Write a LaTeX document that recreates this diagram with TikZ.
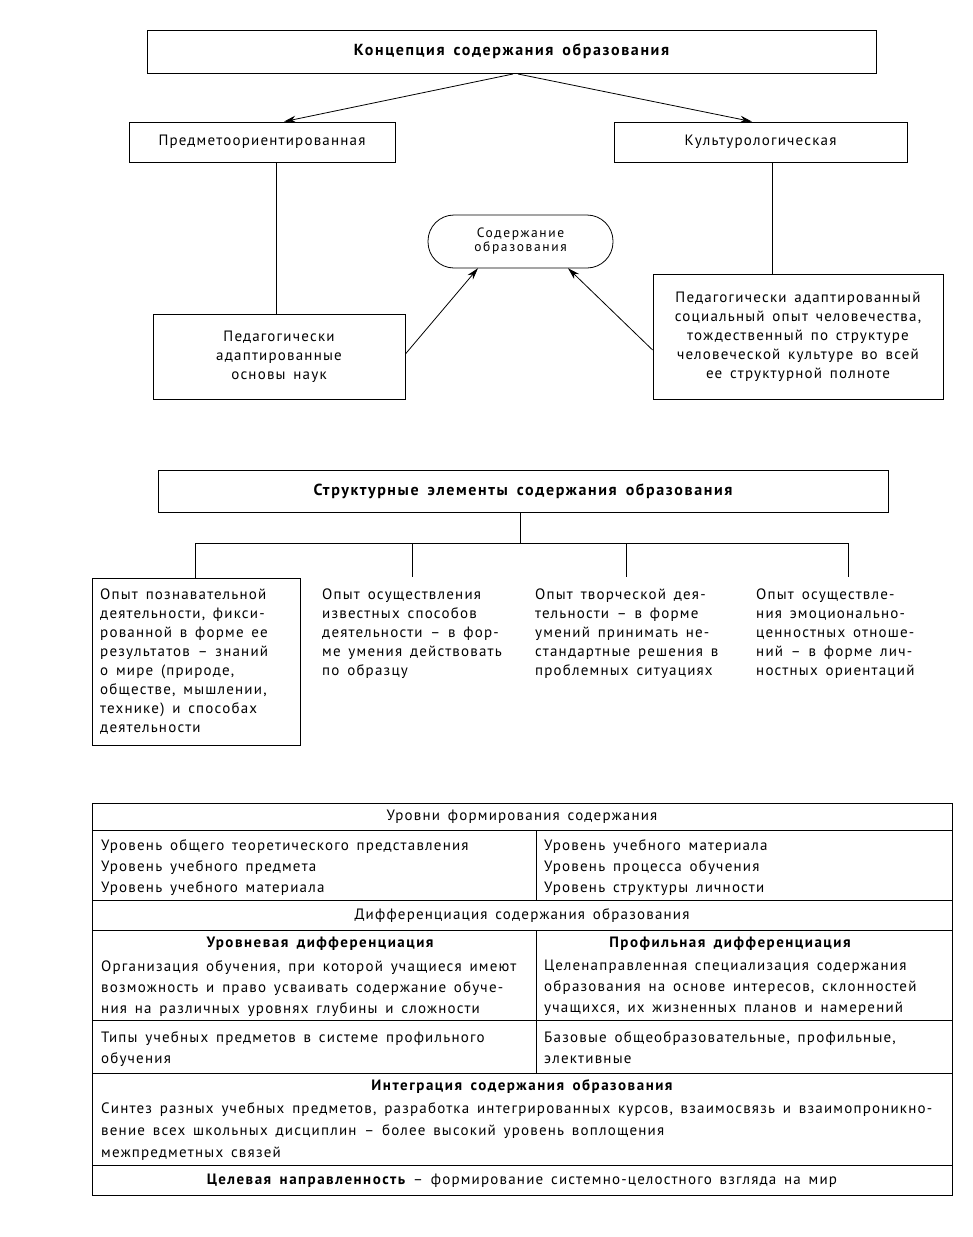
\documentclass[tikz,border=0pt]{standalone}
\usepackage{fontspec}
\setmainfont{PT Sans}[LetterSpace=8,WordSpace=1.5]
\newfontfamily\titlef{PT Sans}[LetterSpace=10,WordSpace=1.6]
\newfontfamily\pillf{PT Sans}[LetterSpace=12]
\usetikzlibrary{arrows.meta}
\begin{document}
\begin{tikzpicture}[x=1pt,y=-1pt,
  every node/.style={font=\fontsize{15}{19}\selectfont},
  box/.style={draw,thick,rectangle,inner sep=0pt},
  title/.style={font=\titlef\bfseries\fontsize{16}{19}\selectfont},
  txt/.style={inner sep=0pt,align=left,anchor=north west},
  cell/.style={inner sep=0pt,align=left,anchor=north west,font=\fontsize{15}{21}\selectfont},
  ctext/.style={inner sep=0pt,align=center},
  bhead/.style={font=\titlef\bfseries\fontsize{15}{19}\selectfont},
  arr/.style={thick,-{Stealth[length=12pt,width=7pt]}},
  ln/.style={thick}]
\useasboundingbox (0,0) rectangle (972,1237);
% top part
\node[box,title,minimum width=729,minimum height=43] (concept) at (511.5,51.5) {Концепция содержания образования};
\node[box,minimum width=266,minimum height=40] (pred) at (262,142) {Предметоориентированная};
\node[box,minimum width=293,minimum height=40] (cult) at (760.5,142) {Культурологическая};
\node[box,minimum width=252,minimum height=85,align=center] (osn) at (279,357) {Педагогически\\адаптированные\\основы наук};
\node[box,minimum width=290,minimum height=125,align=center] (opyt) at (798,337) {Педагогически адаптированный\\социальный опыт человечества,\\тождественный по структуре\\человеческой культуре во всей\\ее структурной полноте};
\draw[thick,rounded corners=26pt] (428,215) rectangle (613,268);
\node[inner sep=0pt,minimum width=185,minimum height=53,align=center,font=\pillf\fontsize{13.5}{14}\selectfont] (sod) at (520.5,241.5) {Содержание\\образования};
\coordinate (cA) at (513,74);
\coordinate (cB) at (518,74);
\draw[arr] (cA) -- (pred.north -| 284,0);
\draw[arr] (cB) -- (cult.north -| 752,0);
\draw[ln] (pred.south -| 276,0) -- (osn.north -| 276,0);
\draw[ln] (cult.south -| 772,0) -- (opyt.north -| 772,0);
\draw[arr] (osn.east |- 0,354) -- (sod.south -| 478,0);
\draw[arr] (opyt.west |- 0,350) -- (sod.south -| 568,0);
% structural elements
\node[box,title,minimum width=730,minimum height=42] (struct) at (523,491) {Структурные элементы содержания образования};
\node[box,minimum width=208,minimum height=167,anchor=north west] (e1) at (92,578) {};
\node[txt] (e1t) at (100,589) {Опыт познавательной\\деятельности, фикси-\\рованной в форме ее\\результатов – знаний\\о мире (природе,\\обществе, мышлении,\\технике) и способах\\деятельности};
\node[txt] (e2) at (322,589) {Опыт осуществления\\известных способов\\деятельности – в фор-\\ме умения действовать\\по образцу};
\node[txt] (e3) at (535,589) {Опыт творческой дея-\\тельности – в форме\\умений принимать не-\\стандартные решения в\\проблемных ситуациях};
\node[txt] (e4) at (756,589) {Опыт осуществле-\\ния эмоционально-\\ценностных отноше-\\ний – в форме лич-\\ностных ориентаций};
\coordinate (bus) at (520,543);
\coordinate (b1) at (195,543);
\coordinate (b2) at (412,543);
\coordinate (b3) at (626,543);
\coordinate (b4) at (848,543);
\draw[ln] (struct.south -| bus) -- (bus);
\draw[ln] (b1) -- (b4);
\draw[ln] (b1) -- (e1.north -| b1);
\draw[ln] (b2) -- (412,577);
\draw[ln] (b3) -- (626,577);
\draw[ln] (b4) -- (848,577);
% table
\draw[thick] (92,803) rectangle (952,1195);
\draw[thick] (92,830) -- (952,830);
\draw[thick] (92,900) -- (952,900);
\draw[thick] (92,930) -- (952,930);
\draw[thick] (92,1020) -- (952,1020);
\draw[thick] (92,1073) -- (952,1073);
\draw[thick] (92,1165) -- (952,1165);
\draw[thick] (536,830) -- (536,900);
\draw[thick] (536,930) -- (536,1073);
\node[ctext] (t1) at (522,817) {Уровни формирования содержания};
\node[cell] (t2l) at (101,839) {Уровень общего теоретического представления\\Уровень учебного предмета\\Уровень учебного материала};
\node[cell] (t2r) at (544,839) {Уровень учебного материала\\Уровень процесса обучения\\Уровень структуры личности};
\node[ctext] (t3) at (522,916) {Дифференциация содержания образования};
\node[ctext,bhead] (t4lh) at (320,944) {Уровневая дифференциация};
\node[ctext,bhead] (t4rh) at (730,944) {Профильная дифференциация};
\node[cell] (t4l) at (101,960) {Организация обучения, при которой учащиеся имеют\\возможность и право усваивать содержание обуче-\\ния на различных уровнях глубины и сложности};
\node[cell] (t4r) at (544,960) {Целенаправленная специализация содержания\\образования на основе интересов, склонностей\\учащихся, их жизненных планов и намерений};
\node[cell] (t5l) at (101,1031) {Типы учебных предметов в системе профильного\\обучения};
\node[cell] (t5r) at (544,1031) {Базовые общеобразовательные, профильные,\\элективные};
\node[ctext,bhead] (t6h) at (522,1087) {Интеграция содержания образования};
\node[cell,font=\fontsize{15}{22}\selectfont] (t6) at (101,1102) {Синтез разных учебных предметов, разработка интегрированных курсов, взаимосвязь и взаимопроникно-\\вение всех школьных дисциплин – более высокий уровень воплощения\\межпредметных связей};
\node[ctext] (t7) at (522,1181) {{\titlef\bfseries Целевая направленность} – формирование системно-целостного взгляда на мир};
\end{tikzpicture}
\end{document}
